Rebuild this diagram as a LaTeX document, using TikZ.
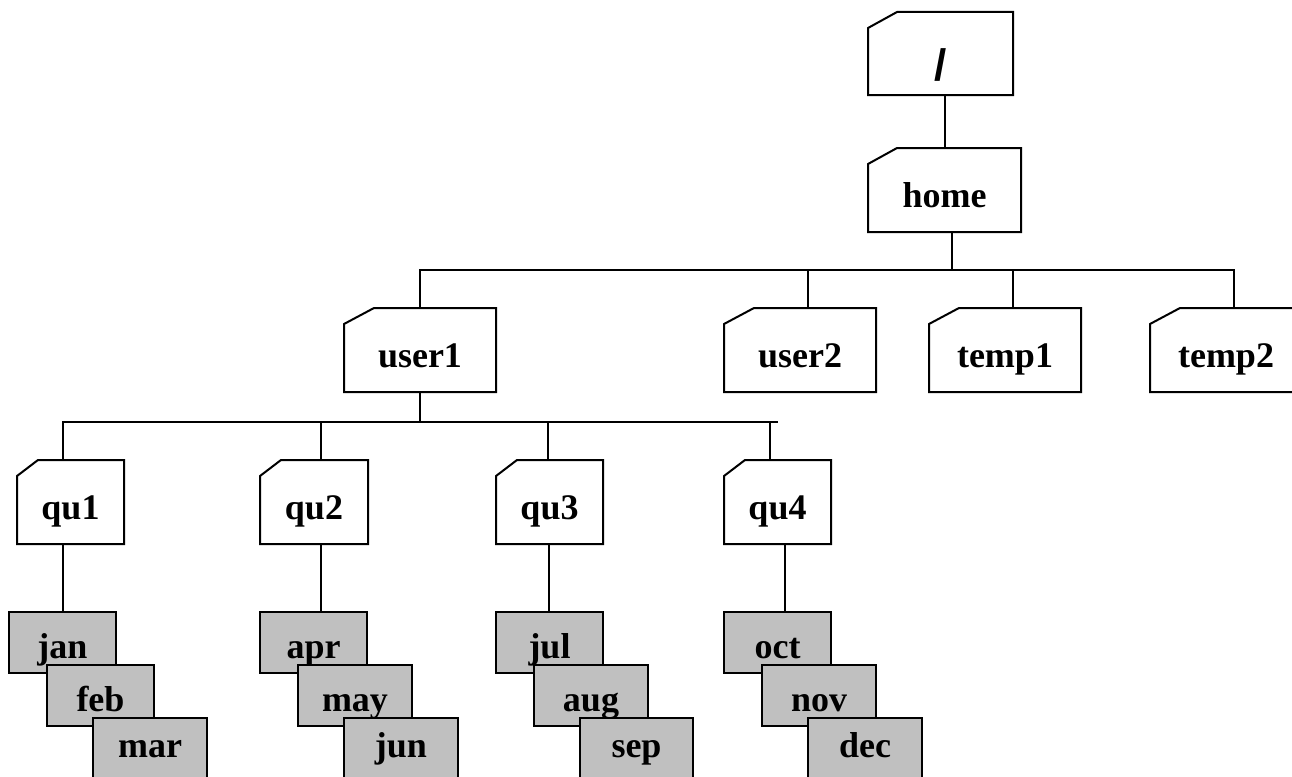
\documentclass[tikz,border=0pt]{standalone}
\usepackage{fontspec}
\setmainfont{Liberation Serif}
\newfontfamily\slashfont{Liberation Sans}
\definecolor{filegrey}{RGB}{192,192,192}
\tikzset{
  line/.style={line width=2pt, line join=miter},
  folder/.style={anchor=north west, inner sep=0pt, outer sep=0pt,
    text height=59pt, text depth=25pt, align=center,
    font=\bfseries\fontsize{36pt}{40pt}\selectfont},
  filebox/.style={anchor=north west, draw, line width=2pt, fill=filegrey,
    inner sep=0pt, outer sep=0pt, minimum width=107pt,
    text height=46pt, text depth=15pt,
    font=\bfseries\fontsize{36pt}{40pt}\selectfont},
  lastfile/.style={filebox, minimum width=114pt, text height=39pt, text depth=22pt},
}
\newcommand\folderoutline[2]{\draw[line] (#1.south west) -- ([yshift=-16pt]#1.north west) -- ([xshift=#2]#1.north west) -- (#1.north east) -- (#1.south east) -- cycle;}
\begin{document}
\begin{tikzpicture}[x=1pt,y=-1pt]
\useasboundingbox (0,0) rectangle (1292,776);
% folders
\node[folder, minimum width=145pt, text height=68pt, text depth=15pt,
      font=\slashfont\bfseries\fontsize{44pt}{48pt}\selectfont] (root) at (868,12) {/};
\node[folder, minimum width=153pt] (home) at (868,148) {home};
\node[folder, minimum width=152pt] (user1) at (344,308) {user1};
\node[folder, minimum width=152pt] (user2) at (724,308) {user2};
\node[folder, minimum width=152pt] (temp1) at (929,308) {temp1};
\node[folder, minimum width=152pt] (temp2) at (1150,308) {temp2};
\node[folder, minimum width=107pt] (qu1) at (17,460) {qu1};
\node[folder, minimum width=108pt] (qu2) at (260,460) {qu2};
\node[folder, minimum width=107pt] (qu3) at (496,460) {qu3};
\node[folder, minimum width=107pt] (qu4) at (724,460) {qu4};
\folderoutline{root}{29pt}
\folderoutline{home}{29pt}
\folderoutline{user1}{30pt}
\folderoutline{user2}{30pt}
\folderoutline{temp1}{30pt}
\folderoutline{temp2}{30pt}
\folderoutline{qu1}{21pt}
\folderoutline{qu2}{21pt}
\folderoutline{qu3}{21pt}
\folderoutline{qu4}{21pt}
% connectors
\coordinate (hbR) at (1234,270);
\coordinate (ubR) at (778,422);
\draw[line] ([xshift=4.5pt]root.south) -- ++(0,53);
\draw[line] ([xshift=7.5pt]home.south) -- ++(0,38);
\draw[line] (user1.north) |- (hbR) -- ([xshift=8pt]temp2.north);
\draw[line] ([xshift=8pt]user2.north) -- ++(0,-38);
\draw[line] ([xshift=8pt]temp1.north) -- ++(0,-38);
\draw[line] (user1.south) -- ++(0,30);
\draw[line] ([xshift=-7.5pt]qu1.north) |- (ubR);
\draw[line] ([xshift=7pt]qu2.north) -- ++(0,-38);
\draw[line] ([xshift=-1.5pt]qu3.north) -- ++(0,-38);
\draw[line] ([xshift=-7.5pt]qu4.north) -- ++(0,-38);
\draw[line] ([xshift=-7.5pt]qu1.south) -- ++(0,68);
\draw[line] ([xshift=7pt]qu2.south) -- ++(0,68);
\draw[line] ([xshift=-0.5pt]qu3.south) -- ++(0,68);
\draw[line] ([xshift=7.5pt]qu4.south) -- ++(0,68);
% files
\node[filebox] (jan) at (9,612) {jan};
\node[filebox] (feb) at (47,665) {feb};
\node[lastfile] (mar) at (93,718) {mar};
\node[filebox] (apr) at (260,612) {apr};
\node[filebox, minimum width=114pt] (may) at (298,665) {may};
\node[lastfile] (jun) at (344,718) {jun};
\node[filebox] (jul) at (496,612) {jul};
\node[filebox, minimum width=114pt] (aug) at (534,665) {aug};
\node[lastfile, minimum width=113pt] (sep) at (580,718) {sep};
\node[filebox] (oct) at (724,612) {oct};
\node[filebox, minimum width=114pt] (nov) at (762,665) {nov};
\node[lastfile] (dec) at (808,718) {dec};
\end{tikzpicture}
\end{document}
